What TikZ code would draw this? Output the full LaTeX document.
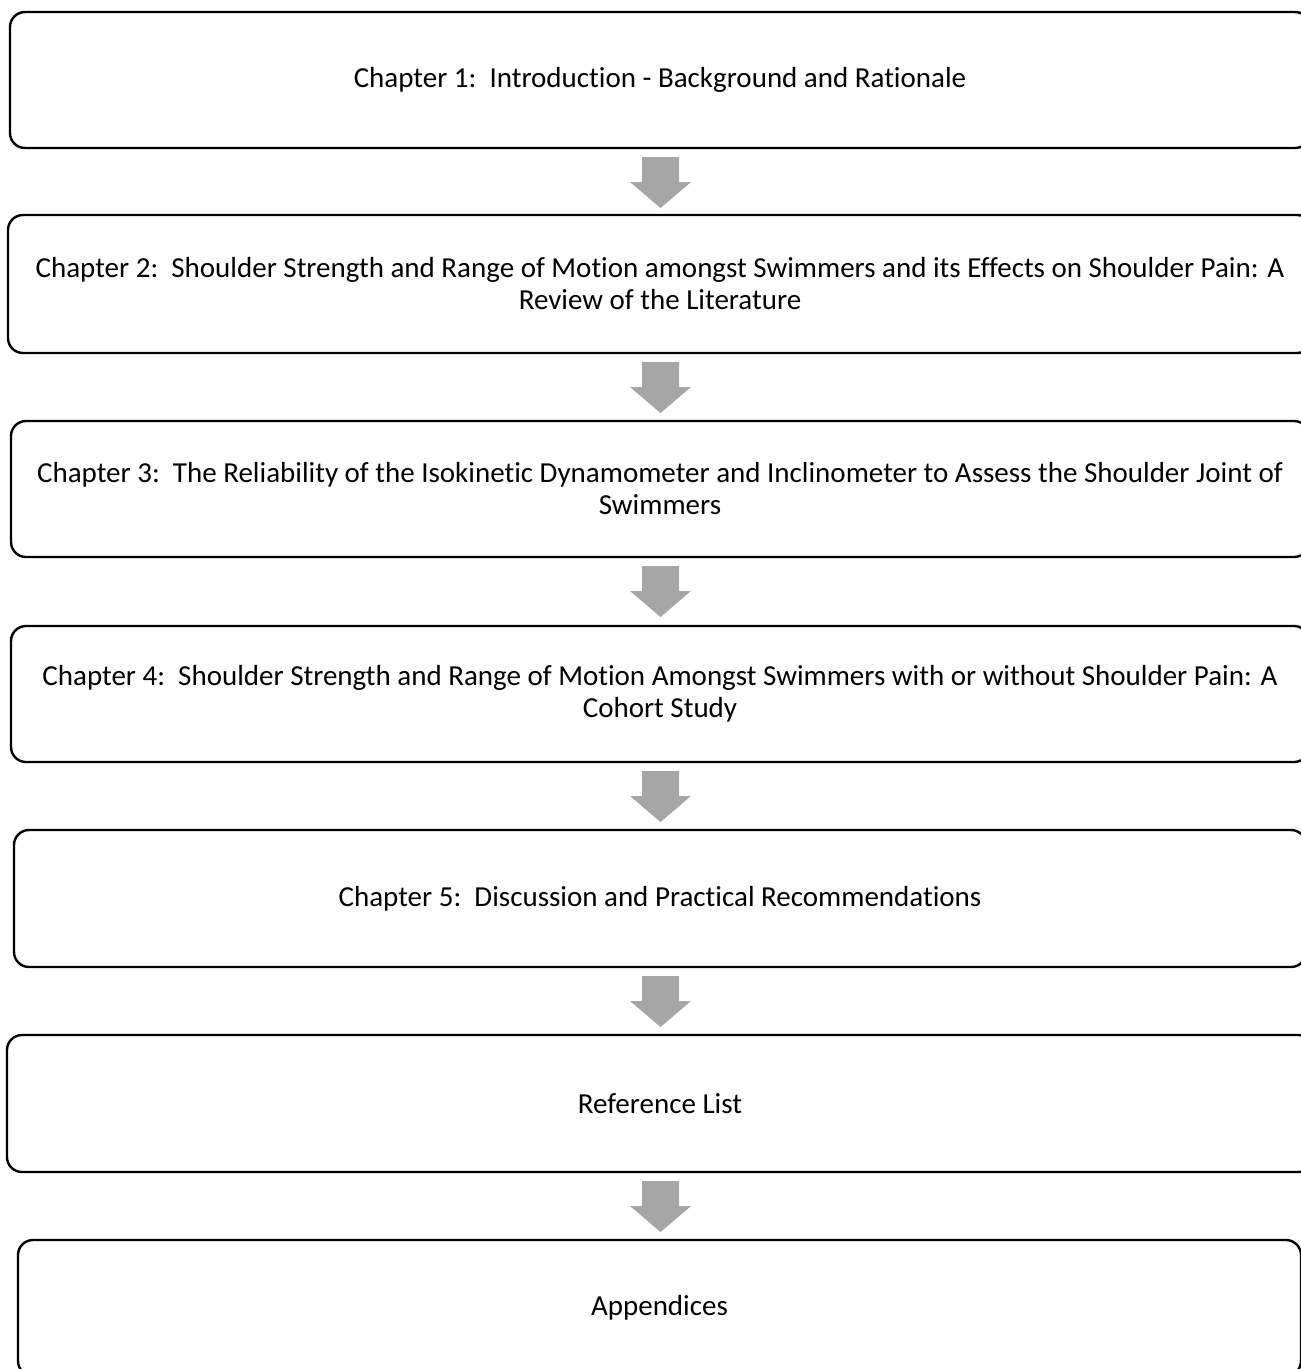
\documentclass[tikz,border=0pt]{standalone}
\usepackage{fontspec}
\setmainfont{Carlito}[Ligatures={NoCommon}]
\begin{document}
\begin{tikzpicture}[x=1pt,y=-1pt,
  chapbox/.style={draw=black, line width=2.4pt, rounded corners=15pt, fill=white,
    inner sep=0pt, align=center, font=\fontsize{29}{32}\selectfont},
  blockarrow/.pic={\fill[arrowgray] (-18.5,0) -- (18.5,0) -- (18.5,25) -- (30.5,25) -- (0,51) -- (-30.5,25) -- (-18.5,25) -- cycle;}
]
\definecolor{arrowgray}{HTML}{A6A6A6}
\useasboundingbox (0,0) rectangle (1301,1369);
% boxes
\node[chapbox, minimum width=1300pt, minimum height=136pt] (b1) at (660,80)
  {Chapter 1:\ \ Introduction - Background and Rationale};
\node[chapbox, minimum width=1304pt, minimum height=138pt] (b2) at (660,284)
  {Chapter 2:\ \ Shoulder Strength and Range of Motion amongst Swimmers and its Effects on Shoulder Pain: A\\Review of the Literature};
\node[chapbox, minimum width=1298pt, minimum height=136pt] (b3) at (660,489)
  {Chapter 3:\ \ The Reliability of the Isokinetic Dynamometer and Inclinometer to Assess the Shoulder Joint of\\Swimmers};
\node[chapbox, minimum width=1298pt, minimum height=136pt] (b4) at (660,694)
  {Chapter 4:\ \ Shoulder Strength and Range of Motion Amongst Swimmers with or without Shoulder Pain: A\\Cohort Study};
\node[chapbox, minimum width=1292pt, minimum height=137pt] (b5) at (660,898.5)
  {Chapter 5:\ \ Discussion and Practical Recommendations};
\node[chapbox, minimum width=1306pt, minimum height=137pt] (b6) at (660,1103.5)
  {Reference List};
\node[chapbox, minimum width=1283pt, minimum height=136pt] (b7) at (659.5,1308)
  {Appendices};
% arrows
\coordinate (a1) at (660.5,157);
\coordinate (a2) at (660.5,362);
\coordinate (a3) at (660.5,566);
\coordinate (a4) at (660.5,771);
\coordinate (a5) at (660.5,976);
\coordinate (a6) at (660.5,1181);
\foreach \a in {a1,a2,a3,a4,a5,a6} { \pic at (\a) {blockarrow}; }
\end{tikzpicture}
\end{document}
